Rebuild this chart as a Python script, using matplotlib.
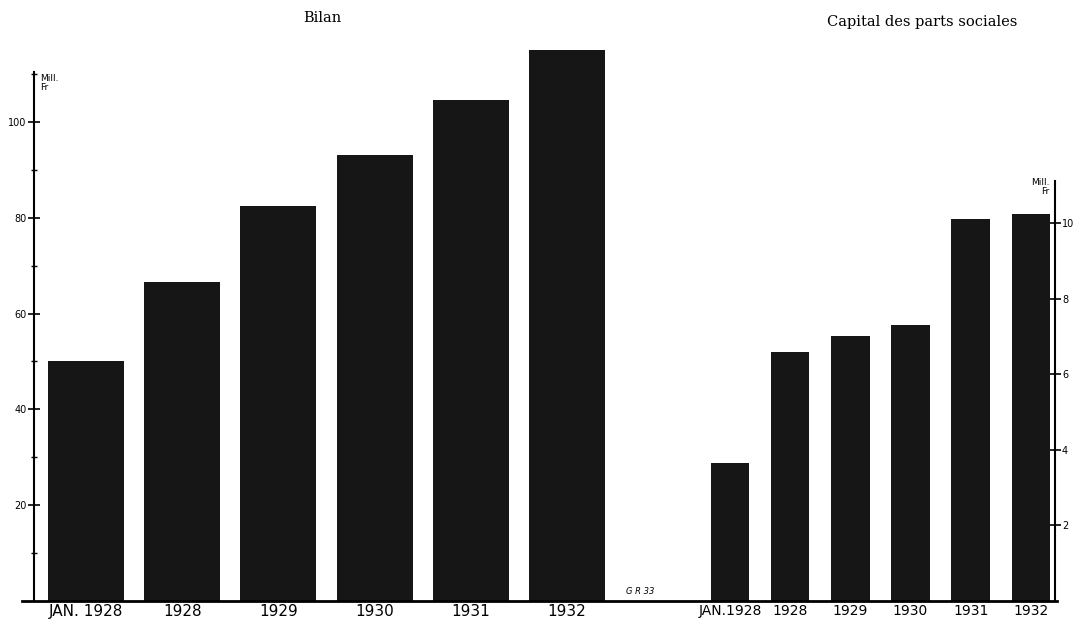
import matplotlib.pyplot as plt
from matplotlib.ticker import FixedLocator

' _____________ Data _______________________________________________________ '

bilan_labels    = ['JAN. 1928', '1928', '1929', '1930', '1931', '1932']
bilan_values    = [50, 66.5, 82.5, 93, 104.5, 115]        # Mill. Fr
bilan_ticks     = [20, 40, 60, 80, 100]
bilan_minor     = [10, 30, 50, 70, 90, 110]

capital_labels  = ['JAN.1928', '1928', '1929', '1930', '1931', '1932']
capital_values  = [3.65, 6.6, 7.0, 7.3, 10.1, 10.25]      # Mill. Fr
capital_ticks   = [2, 4, 6, 8, 10]

bar_color       = '#161616'
W, H            = 1079, 628

' _____________ Figure _____________________________________________________ '

fig = plt.figure(figsize = (W/100, H/100), dpi = 100)
fig.patch.set_facecolor('white')

def px_axes(x0, x1, y_top, y_base):
    " axes from pixel coordinates (top-left origin) "
    return fig.add_axes([x0/W, (H-y_base)/H, (x1-x0)/W, (y_base-y_top)/H])

''' Bilan '''
ax1 = px_axes(34, 620, 26, 601)
x1 = range(len(bilan_values))
ax1.bar(x1, bilan_values, width = 0.79, color = bar_color, zorder = 2)
ax1.set_xlim(-0.54, 5.55)
ax1.set_ylim(0, 120)
ax1.set_xticks(list(x1))
ax1.set_xticklabels(bilan_labels, fontsize = 11, family = 'DejaVu Sans')
ax1.tick_params(axis = 'x', length = 0, pad = 2)
ax1.set_yticks(bilan_ticks)
ax1.yaxis.set_minor_locator(FixedLocator(bilan_minor))
ax1.tick_params(axis = 'y', which = 'major', direction = 'inout', length = 9,
                width = 1.2, labelsize = 7, pad = 1)
ax1.tick_params(axis = 'y', which = 'minor', direction = 'inout', length = 5,
                width = 1)
for s in ['top', 'right', 'bottom']:
    ax1.spines[s].set_visible(False)
ax1.spines['left'].set_bounds(0, 110.5)
ax1.spines['left'].set_linewidth(1.5)
ax1.text(0.01, 110, 'Mill.\nFr', transform = ax1.get_yaxis_transform(),
         fontsize = 6.5, va = 'top', ha = 'left', linespacing = 1.0)
ax1.set_facecolor('none')
fig.text(322/W, 1 - 18/H, 'Bilan', family = 'DejaVu Serif', fontsize = 10.5,
         ha = 'center', va = 'center')

''' Capital des parts sociales '''
ax2 = px_axes(680, 1055, 26, 601)
x2 = range(len(capital_values))
ax2.bar(x2, capital_values, width = 0.64, color = bar_color, zorder = 2)
ax2.set_xlim(-0.83, 5.4)
ax2.set_ylim(0, (601-26)/37.8)
ax2.set_xticks(list(x2))
ax2.set_xticklabels(capital_labels, fontsize = 10, family = 'DejaVu Sans')
ax2.tick_params(axis = 'x', length = 0, pad = 2)
ax2.yaxis.tick_right()
ax2.set_yticks(capital_ticks)
ax2.tick_params(axis = 'y', which = 'major', direction = 'inout', length = 8,
                width = 1.2, labelsize = 7, pad = 1)
for s in ['top', 'left', 'bottom']:
    ax2.spines[s].set_visible(False)
ax2.spines['right'].set_bounds(0, 11.1)
ax2.spines['right'].set_linewidth(1.5)
ax2.text(0.985, 11.2, 'Mill.\nFr', transform = ax2.get_yaxis_transform(),
         fontsize = 6.5, va = 'top', ha = 'right', linespacing = 1.0)
ax2.set_facecolor('none')
fig.text(922/W, 1 - 22/H, 'Capital des parts sociales', family = 'DejaVu Serif',
         fontsize = 10.5, ha = 'center', va = 'center')

" common base line and signature "
fig.add_artist(plt.Line2D([22/W, 1057/W], [(H-601)/H]*2, color = 'k',
                          linewidth = 2, transform = fig.transFigure))
fig.text(640/W, 1 - 592/H, 'G R 33', fontsize = 6, style = 'italic',
         ha = 'center', va = 'center')

fig.savefig('out.png', dpi = 100, facecolor = 'white')
plt.close()
